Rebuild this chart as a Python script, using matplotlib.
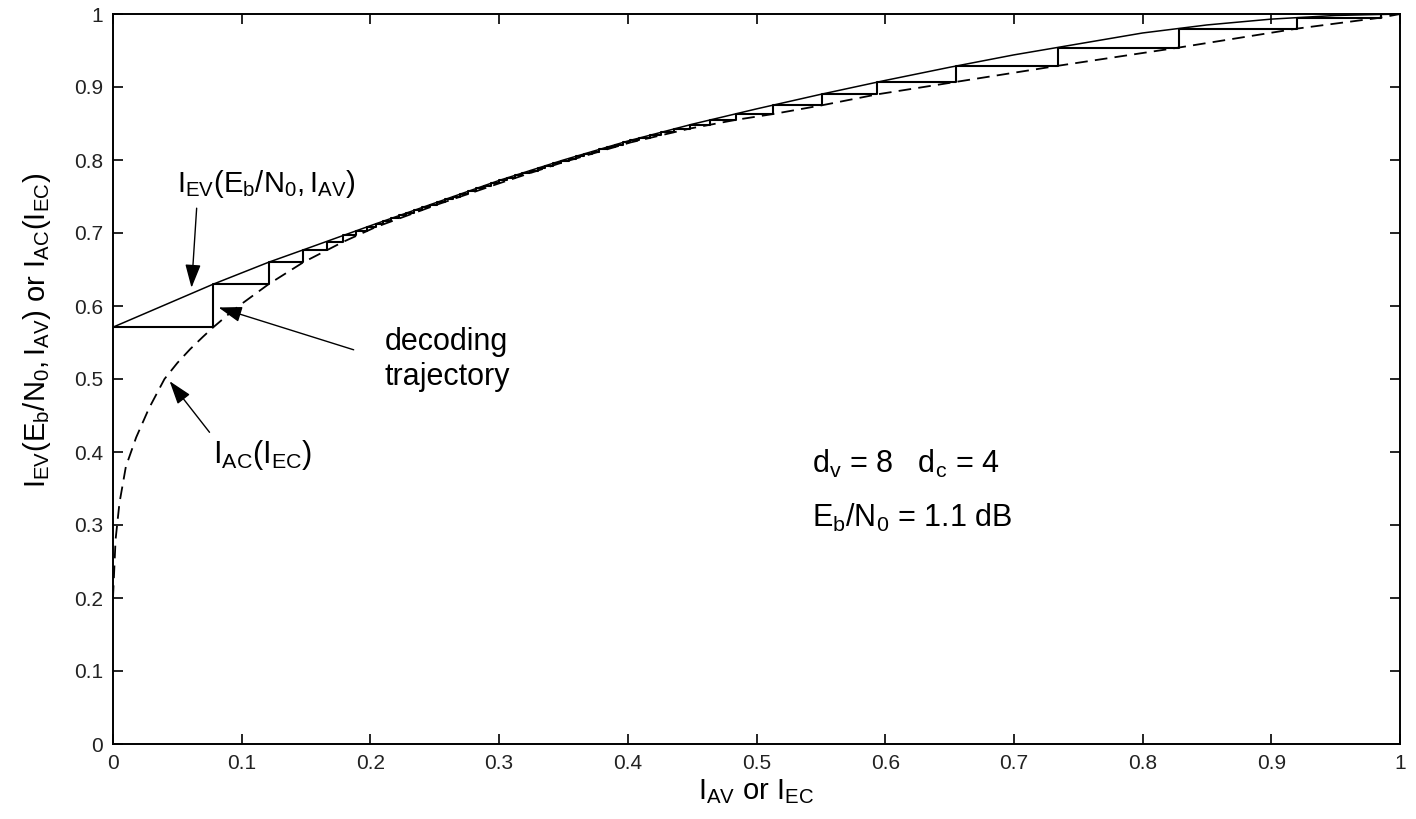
import matplotlib
matplotlib.use("Agg")
import matplotlib.pyplot as plt

# --- data ---
# I_EV(Eb/N0, I_AV): variable-node curve (solid)
solid_x = [0.0, 0.078, 0.121, 0.148, 0.2, 0.25, 0.3, 0.35, 0.4, 0.45, 0.5,
           0.55, 0.6, 0.65, 0.7, 0.75, 0.8, 0.85, 0.9, 0.95, 1.0]
solid_y = [0.571, 0.630, 0.660, 0.677, 0.710, 0.741, 0.772, 0.800, 0.826, 0.849, 0.870,
           0.890, 0.909, 0.927, 0.944, 0.959, 0.974, 0.985, 0.993, 0.998, 1.0]

# I_AC(I_EC): check-node curve (dashed)
dashed_x = [0.0, 0.002, 0.005, 0.010, 0.018, 0.028, 0.040, 0.050, 0.060, 0.070,
            0.078, 0.090, 0.100, 0.121, 0.148, 0.179, 0.204, 0.252, 0.300, 0.348,
            0.402, 0.448, 0.484, 0.513, 0.551, 0.594, 0.655, 0.734, 0.828, 0.920,
            0.985, 1.0]
dashed_y = [0.20, 0.28, 0.33, 0.38, 0.42, 0.46, 0.50, 0.522, 0.541, 0.558,
            0.571, 0.589, 0.603, 0.630, 0.660, 0.688, 0.708, 0.739, 0.768, 0.796,
            0.824, 0.843, 0.855, 0.863, 0.875, 0.890, 0.907, 0.929, 0.954, 0.980,
            0.995, 1.0]

# decoding trajectory: x of each vertical step and the level it climbs to
step_x = [0.078, 0.121, 0.148, 0.166, 0.179, 0.189, 0.197, 0.204,
          0.210, 0.216, 0.222, 0.228, 0.234, 0.240, 0.246, 0.252, 0.258, 0.264,
          0.270, 0.276, 0.282, 0.288, 0.294, 0.300, 0.306, 0.312, 0.318, 0.324,
          0.330, 0.336, 0.342, 0.348, 0.354, 0.360, 0.366, 0.372, 0.378, 0.384,
          0.390, 0.396, 0.402,
          0.409, 0.417, 0.426, 0.436, 0.448, 0.464, 0.484, 0.513, 0.551, 0.594,
          0.655, 0.734, 0.828, 0.920, 0.985]
step_y = [0.630, 0.660, 0.677, 0.688, 0.697, 0.703, 0.708, 0.712,
          0.716, 0.720, 0.724, 0.727, 0.731, 0.735, 0.739, 0.742, 0.746, 0.750,
          0.753, 0.757, 0.761, 0.765, 0.768, 0.772, 0.775, 0.779, 0.782, 0.785,
          0.789, 0.792, 0.796, 0.799, 0.802, 0.805, 0.808, 0.811, 0.815, 0.818,
          0.821, 0.824, 0.827,
          0.830, 0.834, 0.838, 0.843, 0.848, 0.855, 0.863, 0.875, 0.890, 0.907,
          0.929, 0.954, 0.980, 0.995, 1.0]

ticks = [0, 0.1, 0.2, 0.3, 0.4, 0.5, 0.6, 0.7, 0.8, 0.9, 1]
tick_labels = ["0", "0.1", "0.2", "0.3", "0.4", "0.5", "0.6", "0.7", "0.8", "0.9", "1"]

plt.rcParams["font.family"] = ["Liberation Sans", "DejaVu Sans"]
plt.rcParams["mathtext.fontset"] = "custom"
plt.rcParams["mathtext.rm"] = "Liberation Sans"
plt.rcParams["mathtext.it"] = "Liberation Sans:italic"
plt.rcParams["mathtext.bf"] = "Liberation Sans:bold"
plt.rcParams["mathtext.default"] = "regular"

fig = plt.figure(figsize=(14.16, 8.19), dpi=100)
ax = fig.add_axes([113 / 1416, 75 / 819, 1287 / 1416, 730 / 819])

# staircase built from the step lists
traj_x = [0.0]
traj_y = [solid_y[0]]
for sx, sy in zip(step_x, step_y):
    traj_x += [sx, sx]
    traj_y += [traj_y[-1], sy]
traj_x.append(1.0)
traj_y.append(traj_y[-1])

ax.plot(solid_x, solid_y, color="k", lw=1.1)
ax.plot(dashed_x, dashed_y, color="k", lw=1.3, linestyle=(0, (7, 4)))
ax.plot(traj_x, traj_y, color="k", lw=1.5)

ax.set_xlim(0, 1)
ax.set_ylim(0, 1)
ax.set_xticks(ticks)
ax.set_xticklabels(tick_labels)
ax.set_yticks(ticks)
ax.set_yticklabels(tick_labels)
ax.tick_params(direction="in", top=True, right=True, length=7, width=1.2,
               labelsize=15, pad=7, labelcolor="#222222")
for sp in ax.spines.values():
    sp.set_linewidth(1.4)

ax.set_xlabel("$I_{AV}$ or $I_{EC}$", fontsize=21)
ax.xaxis.set_label_coords(0.5, -0.046)
ax.set_ylabel("$I_{EV}(E_b/N_0, I_{AV})$ or $I_{AC}(I_{EC})$", fontsize=21)
ax.yaxis.set_label_coords(-0.047, 0.567)

arrow = dict(arrowstyle="-|>,head_length=0.9,head_width=0.3", color="k",
             lw=1.0, mutation_scale=16, shrinkA=0, shrinkB=0)

ax.text(0.050, 0.756, "$I_{EV}(E_b/N_0, I_{AV})$", fontsize=21, va="baseline")
ax.annotate("", xy=(0.061, 0.625), xytext=(0.065, 0.734), arrowprops=arrow)

ax.text(0.211, 0.540, "decoding", fontsize=22, va="baseline")
ax.text(0.211, 0.492, "trajectory", fontsize=22, va="baseline")
ax.annotate("", xy=(0.082, 0.598), xytext=(0.187, 0.540), arrowprops=arrow)

ax.text(0.078, 0.385, "$I_{AC}(I_{EC})$", fontsize=22, va="baseline")
ax.annotate("", xy=(0.044, 0.497), xytext=(0.075, 0.427), arrowprops=arrow)

ax.text(0.543, 0.371, "$d_v$ = 8   $d_c$ = 4", fontsize=22, va="baseline")
ax.text(0.543, 0.297, "$E_b/N_0$ = 1.1 dB", fontsize=22, va="baseline")

fig.savefig("out.png", dpi=100)
